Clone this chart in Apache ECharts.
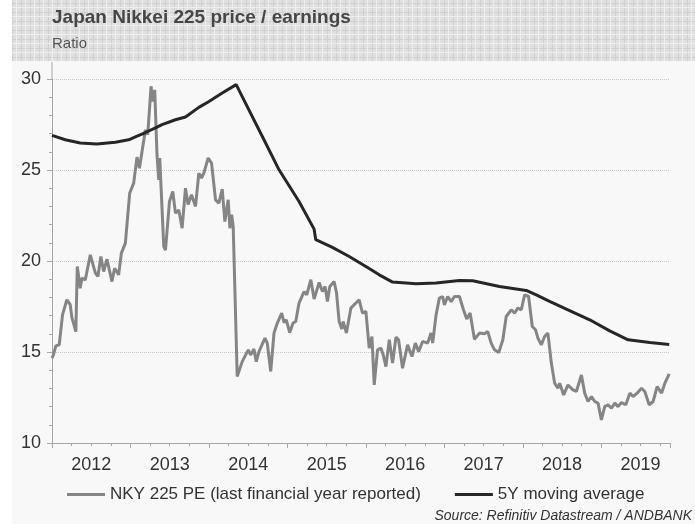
<!DOCTYPE html>
<html>
<head>
<meta charset="utf-8">
<title>Japan Nikkei 225 price / earnings</title>
<script src="https://cdn.jsdelivr.net/npm/echarts@6/dist/echarts.min.js"></script>
<style>
  html, body { margin: 0; padding: 0; background: #fff; }
  #main { width: 695px; height: 524px; }
</style>
</head>
<body>
<div id="main"></div>
<script>
// NKY 225 PE (last financial year reported), decimal years
var peYears = [
  2012.000, 2012.019, 2012.049, 2012.092, 2012.134, 2012.189, 2012.232, 2012.253, 2012.304, 2012.322,
  2012.360, 2012.381, 2012.424, 2012.488, 2012.552, 2012.585, 2012.623, 2012.658, 2012.700, 2012.764,
  2012.798, 2012.849, 2012.884, 2012.935, 2012.990, 2013.041, 2013.083, 2013.114, 2013.190, 2013.220,
  2013.262, 2013.284, 2013.309, 2013.338, 2013.360, 2013.373, 2013.424, 2013.446, 2013.497, 2013.539,
  2013.573, 2013.616, 2013.658, 2013.701, 2013.734, 2013.778, 2013.829, 2013.871, 2013.905, 2013.935,
  2013.990, 2014.033, 2014.084, 2014.126, 2014.169, 2014.203, 2014.245, 2014.267, 2014.289, 2014.309,
  2014.360, 2014.424, 2014.501, 2014.531, 2014.573, 2014.603, 2014.637, 2014.714, 2014.743, 2014.787,
  2014.829, 2014.871, 2014.927, 2014.957, 2014.986, 2015.029, 2015.072, 2015.106, 2015.148, 2015.212,
  2015.246, 2015.298, 2015.340, 2015.404, 2015.446, 2015.480, 2015.510, 2015.540, 2015.595, 2015.625,
  2015.659, 2015.693, 2015.710, 2015.752, 2015.808, 2015.914, 2015.957, 2016.000, 2016.042, 2016.077,
  2016.106, 2016.148, 2016.192, 2016.221, 2016.255, 2016.298, 2016.340, 2016.383, 2016.416, 2016.467,
  2016.531, 2016.587, 2016.630, 2016.672, 2016.723, 2016.787, 2016.830, 2016.851, 2016.894, 2016.936,
  2016.978, 2017.000, 2017.042, 2017.086, 2017.128, 2017.192, 2017.243, 2017.285, 2017.328, 2017.383,
  2017.447, 2017.511, 2017.553, 2017.596, 2017.639, 2017.693, 2017.745, 2017.788, 2017.852, 2017.894,
  2017.936, 2017.980, 2018.022, 2018.073, 2018.120, 2018.162, 2018.192, 2018.235, 2018.277, 2018.319,
  2018.363, 2018.405, 2018.447, 2018.469, 2018.520, 2018.575, 2018.638, 2018.682, 2018.746, 2018.788,
  2018.830, 2018.874, 2018.916, 2018.958, 2019.001, 2019.043, 2019.086, 2019.129, 2019.171, 2019.213,
  2019.257, 2019.312, 2019.363, 2019.405, 2019.456, 2019.512, 2019.554, 2019.609, 2019.660, 2019.711,
  2019.768, 2019.810, 2019.865
];
var peValues = [
  14.66, 14.85, 15.34, 15.40, 17.04, 17.87, 17.60, 16.90, 16.12, 19.70,
  18.50, 19.07, 18.96, 20.34, 19.35, 19.15, 20.25, 19.42, 20.10, 18.87,
  19.60, 19.24, 20.43, 20.98, 23.73, 24.28, 25.71, 25.10, 27.20, 26.94,
  29.60, 28.77, 29.40, 25.84, 24.46, 25.66, 20.80, 20.60, 23.27, 23.82,
  22.63, 22.80, 21.80, 24.00, 23.10, 23.64, 23.00, 24.83, 24.56, 24.83,
  25.66, 25.38, 23.36, 23.18, 23.95, 22.17, 23.36, 21.80, 22.54, 21.90,
  13.65, 14.47, 15.12, 14.84, 15.16, 14.47, 15.02, 15.76, 15.49, 13.93,
  16.04, 16.59, 17.14, 16.62, 16.77, 16.07, 16.59, 16.68, 17.69, 18.32,
  18.14, 18.97, 17.91, 18.82, 18.32, 18.60, 17.77, 18.60, 18.87, 18.27,
  16.68, 16.26, 16.68, 16.04, 17.41, 17.87, 17.14, 17.23, 15.21, 15.85,
  13.19, 15.12, 15.21, 14.84, 14.20, 15.67, 14.39, 15.82, 15.67, 14.11,
  15.39, 14.75, 15.49, 15.02, 15.58, 15.49, 16.04, 15.49, 17.04, 17.96,
  18.05, 17.59, 18.05, 17.77, 18.05, 18.05, 17.32, 16.81, 17.14, 15.70,
  16.04, 16.00, 16.12, 15.49, 15.12, 14.97, 15.67, 16.95, 17.32, 17.14,
  17.41, 17.32, 18.14, 18.05, 16.40, 16.22, 15.76, 15.39, 15.85, 16.04,
  14.39, 13.29, 13.01, 13.29, 12.64, 13.19, 12.92, 12.83, 13.74, 12.74,
  12.28, 12.55, 12.28, 12.19, 11.27, 12.00, 12.10, 11.91, 12.19, 12.00,
  12.22, 12.10, 12.74, 12.55, 12.74, 13.01, 12.83, 12.10, 12.28, 13.10,
  12.74, 13.29, 13.80
];

// 5Y moving average
var maYears = [
  2012.000, 2012.169, 2012.360, 2012.572, 2012.807, 2012.977, 2013.070, 2013.190, 2013.318, 2013.402,
  2013.573, 2013.701, 2013.871, 2013.990, 2014.169, 2014.347, 2014.701, 2014.893, 2015.148, 2015.340,
  2015.361, 2015.573, 2015.787, 2016.000, 2016.170, 2016.340, 2016.638, 2016.894, 2017.192, 2017.361,
  2017.702, 2018.043, 2018.171, 2018.341, 2018.554, 2018.852, 2019.107, 2019.341, 2019.618, 2019.865
];
var maValues = [
  26.90, 26.66, 26.48, 26.43, 26.52, 26.66, 26.84, 27.06, 27.31, 27.49,
  27.76, 27.91, 28.44, 28.74, 29.23, 29.69, 26.66, 25.01, 23.27, 21.75,
  21.17, 20.75, 20.25, 19.70, 19.24, 18.84, 18.75, 18.79, 18.93, 18.91,
  18.60, 18.38, 18.14, 17.78, 17.36, 16.77, 16.16, 15.67, 15.52, 15.41
];

var yearLabels = ['2012', '2013', '2014', '2015', '2016', '2017', '2018', '2019'];

function pairs(xs, ys) {
  return xs.map(function (x, i) { return [x, ys[i]]; });
}

// plaid look of the header band
function plaid() {
  var c = document.createElement('canvas');
  c.width = 9; c.height = 9;
  var g = c.getContext('2d');
  g.fillStyle = '#e0e0e0'; g.fillRect(0, 0, 9, 9);
  g.fillStyle = '#d0d0d0'; g.fillRect(0, 3, 9, 1); g.fillRect(3, 0, 1, 9);
  g.fillStyle = '#eeeeee'; g.fillRect(0, 7, 9, 1); g.fillRect(7, 0, 1, 9);
  return c;
}

var myChart = echarts.init(document.getElementById('main'), null, { renderer: 'canvas' });

var axisGrey = '#a6a6a6';
var option = {
  animation: false,
  backgroundColor: '#ffffff',
  textStyle: { fontFamily: 'Liberation Sans, Arial, sans-serif' },
  graphic: [
    { type: 'rect', z: -10, shape: { x: 12, y: 0, width: 683, height: 61 },
      style: { fill: { image: plaid(), repeat: 'repeat' } } },
    { type: 'rect', z: -10, shape: { x: 12, y: 61, width: 683, height: 463 },
      style: { fill: '#f8f8f8' } },
    { type: 'line', z: 5, shape: { x1: 52, y1: 62, x2: 52, y2: 79 },
      style: { stroke: axisGrey, lineWidth: 1 } },
    { type: 'text', style: { x: 52, y: 18, text: 'Japan Nikkei 225 price / earnings',
      font: 'bold 19px Liberation Sans, Arial, sans-serif', fill: '#464646', textVerticalAlign: 'middle' } },
    { type: 'text', style: { x: 52, y: 44, text: 'Ratio',
      font: '15px Liberation Sans, Arial, sans-serif', fill: '#555555', textVerticalAlign: 'middle' } },
    { type: 'text', style: { x: 692, y: 516, text: 'Source: Refinitiv Datastream / ANDBANK',
      font: 'italic 14px Liberation Sans, Arial, sans-serif', fill: '#333333',
      textAlign: 'right', textVerticalAlign: 'middle' } }
  ],
  legend: {
    left: 62,
    top: 481,
    icon: 'rect',
    itemWidth: 38,
    itemHeight: 3,
    itemGap: 34,
    textStyle: { fontSize: 17, color: '#333' },
    data: ['NKY 225 PE (last financial year reported)', '5Y moving average']
  },
  grid: { left: 52, right: 25, top: 79, bottom: 81, containLabel: false },
  xAxis: [
    {
      type: 'value', min: 2012, max: 2019.875, interval: 1, position: 'bottom',
      axisLine: { show: true, lineStyle: { color: axisGrey } },
      axisTick: { show: true, length: 5, lineStyle: { color: axisGrey } },
      axisLabel: { show: false },
      splitLine: { show: false }
    },
    {
      type: 'value', min: 2012, max: 2019.875, interval: 0.25, position: 'bottom',
      axisLine: { show: false },
      axisTick: { show: true, length: 3, lineStyle: { color: axisGrey } },
      axisLabel: {
        show: true, margin: 13, fontSize: 18, color: '#333',
        formatter: function (v) {
          var k = Math.round((v - 2012) * 4);
          if (k % 4 === 2) return yearLabels[(k - 2) / 4] || '';
          return '';
        }
      },
      splitLine: { show: false }
    }
  ],
  yAxis: {
    type: 'value', min: 10, max: 30, interval: 5,
    axisLine: { show: true, lineStyle: { color: axisGrey } },
    axisTick: { show: true, length: 5, lineStyle: { color: axisGrey } },
    minorTick: { show: true, splitNumber: 5, length: 3, lineStyle: { color: axisGrey } },
    axisLabel: { fontSize: 18, color: '#333', margin: 11 },
    splitLine: { show: true, lineStyle: { color: '#c8c8c8', type: 'dotted' } }
  },
  series: [
    {
      name: 'NKY 225 PE (last financial year reported)',
      type: 'line',
      xAxisIndex: 0,
      data: pairs(peYears, peValues),
      symbol: 'none',
      lineStyle: { color: '#858585', width: 3 },
      itemStyle: { color: '#858585' },
      z: 3
    },
    {
      name: '5Y moving average',
      type: 'line',
      xAxisIndex: 0,
      data: pairs(maYears, maValues),
      symbol: 'none',
      lineStyle: { color: '#262626', width: 3 },
      itemStyle: { color: '#262626' },
      z: 4
    }
  ]
};

myChart.setOption(option);
</script>
</body>
</html>
